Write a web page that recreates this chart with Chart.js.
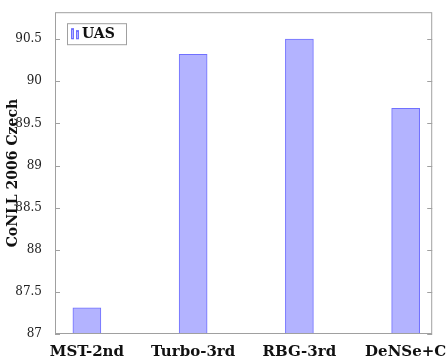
<!DOCTYPE html>
<html><head><meta charset="utf-8">
<script src="https://cdn.jsdelivr.net/npm/chart.js@4/dist/chart.umd.min.js"></script>
<style>html,body{margin:0;padding:0;background:#fff}#wrap{width:448px;height:357px}</style>
</head><body><div id="wrap"><canvas id="c" width="448" height="357"></canvas></div>
<script>
const categories = ["MST-2nd", "Turbo-3rd", "RBG-3rd", "DeNSe+C"];
const uasValues = [87.31, 90.32, 90.50, 89.68];
const yTicks = [87, 87.5, 88, 88.5, 89, 89.5, 90, 90.5];
const seriesLabel = "UAS";
const yTitle = "CoNLL 2006 Czech";

const serif = "'DejaVu Serif', 'Liberation Serif', serif";
const fill = "#b3b3ff", border = "#7070ff", frame = "#a0a0a0";

const framePlugin = {
  id: "frame",
  afterDraw(chart) {
    const {ctx, chartArea: a, scales} = chart;
    ctx.save();
    ctx.strokeStyle = frame; ctx.lineWidth = 1;
    ctx.strokeRect(a.left + 0.5, a.top + 0.5, a.right - a.left - 1, a.bottom - a.top - 1);
    const y = scales.y;
    y.ticks.forEach(t => {
      const py = Math.round(y.getPixelForValue(t.value)) + 0.5;
      ctx.beginPath();
      ctx.moveTo(a.left, py); ctx.lineTo(a.left + 5, py);
      ctx.moveTo(a.right, py); ctx.lineTo(a.right - 5, py);
      ctx.stroke();
    });
    // legend
    const lx = a.left + 12, ly = a.top + 11, lw = 59, lh = 21;
    ctx.fillStyle = "#fff";
    ctx.fillRect(lx, ly, lw, lh);
    ctx.strokeStyle = frame;
    ctx.strokeRect(lx + 0.5, ly + 0.5, lw, lh);
    ctx.fillStyle = fill; ctx.strokeStyle = border;
    ctx.fillRect(lx + 5, ly + 5, 2, 11);
    ctx.fillRect(lx + 9, ly + 7, 3, 9);
    ctx.strokeRect(lx + 4.5, ly + 5.5, 2, 10);
    ctx.strokeRect(lx + 9.5, ly + 7.5, 2, 8);
    ctx.fillStyle = "#111";
    ctx.font = "bold 14px " + serif;
    ctx.textBaseline = "middle";
    ctx.fillText(seriesLabel, lx + 15, ly + lh / 2 + 1);
    ctx.restore();
  }
};

new Chart(document.getElementById("c"), {
  type: "bar",
  data: {
    datasets: [{
      label: seriesLabel,
      data: uasValues.map((v, i) => ({x: i, y: v})),
      backgroundColor: fill,
      borderColor: border,
      borderWidth: {top: 1, left: 1, right: 1, bottom: 0},
      barThickness: 28,
      base: 87
    }]
  },
  options: {
    responsive: false,
    animation: false,
    layout: {padding: {top: 11, right: 11, left: 0, bottom: 0}},
    plugins: {legend: {display: false}, tooltip: {enabled: false}},
    scales: {
      x: {
        type: "linear",
        offset: false,
        min: -0.3, max: 3.25,
        grid: {display: false},
        border: {display: false},
        afterBuildTicks(s) { s.ticks = categories.map((c, i) => ({value: i})); },
        afterFit(s) { s.height = 23; },
        ticks: {
          color: "#111",
          font: {family: serif, size: 15, weight: "bold"},
          padding: 1,
          maxRotation: 0,
          autoSkip: false,
          callback: (v) => categories[v]
        }
      },
      y: {
        min: 87, max: 90.82,
        grid: {display: false},
        border: {display: false},
        afterBuildTicks(s) { s.ticks = yTicks.map(v => ({value: v})); },
        afterFit(s) { s.width = 55; },
        title: {
          display: true, text: yTitle, color: "#111",
          font: {family: serif, size: 14, weight: "bold"}, padding: {top: 5, bottom: 0}
        },
        ticks: {
          color: "#222",
          font: {family: serif, size: 12},
          padding: 5,
          callback: (v) => String(v)
        }
      }
    }
  },
  plugins: [framePlugin]
});
</script></body></html>
